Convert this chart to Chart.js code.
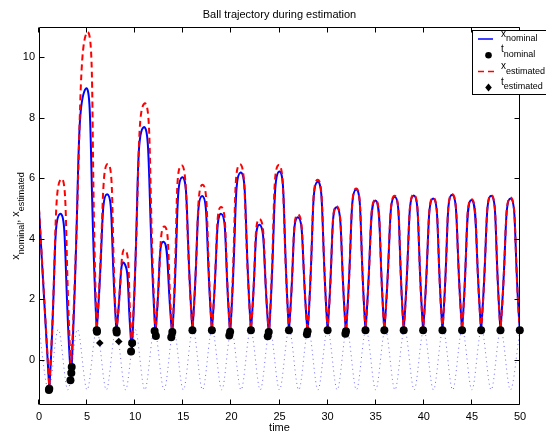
<!DOCTYPE html>
<html><head><meta charset="utf-8">
<script src="https://cdn.jsdelivr.net/npm/chart.js@4.4.1/dist/chart.umd.min.js"></script>
<style>html,body{margin:0;padding:0;background:#fff;overflow:hidden}canvas{display:block}</style>
</head><body>
<canvas id="c" width="546" height="432"></canvas>
<script>
// ---- text ----
const chartTitle = 'Ball trajectory during estimation';
const xAxisLabel = 'time';
// ---- ticks ----
const xTicks = [0, 5, 10, 15, 20, 25, 30, 35, 40, 45, 50];
const yTicks = [0, 2, 4, 6, 8, 10];
// ---- ball impacts (shared times) ----
const impactT    = [1.07, 3.33, 6.0, 8.05, 9.65, 12.1, 13.85, 15.95, 17.97, 19.87, 22.03, 23.9, 25.98, 27.92, 30.0, 31.91, 33.94, 35.9, 37.91, 39.93, 41.94, 43.98, 45.96, 47.97, 49.98];
const nomImpactY = [-0.96, -0.69, 0.97, 0.95, 0.3, 0.85, 0.8, 0.97, 0.97, 0.85, 0.97, 0.8, 0.97, 0.88, 0.97, 0.88, 0.97, 0.97, 0.97, 0.97, 0.97, 0.97, 0.97, 0.97, 0.97];
const estImpactY = [-0.9, -0.35, 0.97, 0.95, 0.5, 0.9, 0.85, 0.97, 0.97, 0.9, 0.97, 0.85, 0.97, 0.9, 0.97, 0.9, 0.97, 0.97, 0.97, 0.97, 0.97, 0.97, 0.97, 0.97, 0.97];
// ---- x_nominal: start value and apexes ----
const nomStart = 4.95;
const nomPeakT = [2.19, 4.79, 7.08, 8.85, 10.86, 12.94, 14.88, 16.96, 18.94, 20.95, 22.93, 24.97, 26.92, 28.96, 30.94, 32.96, 34.96, 36.97, 38.95, 40.97, 42.94, 44.95, 47.0, 49.01];
const nomPeakY = [4.82, 8.93, 5.47, 3.19, 7.68, 3.9, 6.03, 5.41, 4.82, 6.19, 4.46, 6.22, 4.71, 5.88, 5.04, 5.63, 5.26, 5.39, 5.43, 5.33, 5.45, 5.28, 5.42, 5.33];
// ---- x_estimated: start value and apexes ----
const estStart = 5.0;
const estPeakT = [2.29, 4.99, 7.15, 8.95, 10.96, 13.04, 14.8, 17.0, 18.94, 20.88, 22.93, 24.92, 26.92, 28.96, 30.94, 32.96, 34.96, 36.97, 38.95, 40.97, 42.94, 44.95, 47.0, 49.01];
const estPeakY = [5.97, 10.83, 6.47, 3.63, 8.47, 4.4, 6.43, 5.78, 5.05, 6.46, 4.65, 6.44, 4.8, 5.95, 5.08, 5.66, 5.29, 5.42, 5.46, 5.36, 5.48, 5.31, 5.45, 5.36];
// ---- t_nominal markers ----
const tNomT = [1.07, 1.03, 3.4, 3.36, 3.27, 6.0, 6.03, 8.05, 8.08, 9.68, 9.57, 12.02, 12.15, 13.86, 13.75, 15.95, 17.97, 19.87, 19.78, 22.03, 23.88, 23.78, 25.98, 27.92, 27.85, 30.0, 31.91, 31.85, 33.94, 35.9, 37.91, 39.93, 41.94, 43.98, 45.96, 47.97, 49.98];
const tNomY = [-0.96, -1.0, -0.24, -0.44, -0.68, 0.97, 0.92, 0.97, 0.9, 0.55, 0.27, 0.95, 0.78, 0.91, 0.74, 0.97, 0.97, 0.92, 0.8, 0.97, 0.91, 0.77, 0.97, 0.94, 0.84, 0.97, 0.94, 0.86, 0.97, 0.97, 0.97, 0.97, 0.97, 0.97, 0.97, 0.97, 0.97];
// ---- t_estimated markers ----
const tEstT = [1.05, 3.36, 6.32, 8.29, 9.68, 12.05, 13.82, 15.95, 17.97, 19.85];
const tEstY = [-0.94, -0.4, 0.55, 0.6, 0.5, 0.9, 0.85, 0.97, 0.97, 0.9];
// ---- dotted reference (paddle) extremes ----
const paddleT = [0,1,2,3,4,5,6,7,8,9,10,11,12,13,14,15,16,17,18,19,20,21,22,23,24,25,26,27,28,29,30,31,32,33,34,35,36,37,38,39,40,41,42,43,44,45,46,47,48,49,50];
const paddleY = [1,-1,1,-1,1,-1,1,-1,1,-1,1,-1,1,-1,1,-1,1,-1,1,-1,1,-1,1,-1,1,-1,1,-1,1,-1,1,-1,1,-1,1,-1,1,-1,1,-1,1,-1,1,-1,1,-1,1,-1,1,-1,1];

function trajectory(startY, impY, pT, pY) {
  const pts = [{x: 0, y: startY}];
  impactT.forEach((t, i) => {
    pts.push({x: t, y: impY[i]}, {x: t, y: impY[i]});
    if (i < pT.length) pts.push({x: pT[i], y: pY[i]});
  });
  return pts;
}
const zip = (a, b) => a.map((v, i) => ({x: v, y: b[i]}));

const FONT = '"Liberation Sans", Arial, Helvetica, sans-serif';

function subText(ctx, x, y, parts) {
  let cx = x;
  parts.forEach(([t, s, d]) => {
    ctx.font = s + 'px ' + FONT;
    ctx.fillText(t, cx, y + d);
    cx += ctx.measureText(t).width;
  });
  return cx - x;
}
function measureParts(ctx, parts) {
  let w = 0;
  parts.forEach(([t, s]) => { ctx.font = s + 'px ' + FONT; w += ctx.measureText(t).width; });
  return w;
}

const frame = {
  id: 'frame',
  afterDatasetsDraw(chart) {
    const {ctx, chartArea: a, scales: {x, y}} = chart;
    ctx.save();
    ctx.strokeStyle = '#000';
    ctx.lineWidth = 1;
    const L = Math.floor(a.left) + 0.5, R = Math.floor(a.right) - 0.5;
    const T = Math.floor(a.top) + 0.5, B = Math.floor(a.bottom) - 0.5;
    ctx.beginPath();
    ctx.rect(L, T, R - L, B - T);
    xTicks.forEach(v => {
      const px = Math.round(x.getPixelForValue(v)) - 0.5;
      ctx.moveTo(px, B); ctx.lineTo(px, B - 5);
      ctx.moveTo(px, T); ctx.lineTo(px, T + 5);
    });
    yTicks.forEach(v => {
      const py = Math.round(y.getPixelForValue(v)) + 0.5;
      ctx.moveTo(L, py); ctx.lineTo(L + 5, py);
      ctx.moveTo(R, py); ctx.lineTo(R - 5, py);
    });
    ctx.stroke();
    ctx.restore();
  },
  afterDraw(chart) {
    const {ctx, chartArea: a} = chart;
    ctx.save();
    ctx.fillStyle = '#000';
    ctx.textBaseline = 'alphabetic';
    ctx.font = '11px ' + FONT;
    ctx.textAlign = 'center';
    ctx.fillText(chartTitle, (a.left + a.right) / 2, 18);
    ctx.fillText(xAxisLabel, (a.left + a.right) / 2, 430.5);
    ctx.textAlign = 'left';
    const yParts = [['x', 11, 0], ['nominal', 9, 5], [', x', 11, 0], ['estimated', 9, 5]];
    const yw = measureParts(ctx, yParts);
    ctx.save();
    ctx.translate(18.5, (a.top + a.bottom) / 2);
    ctx.rotate(-Math.PI / 2);
    subText(ctx, -yw / 2, 0, yParts);
    ctx.restore();
    // legend box
    ctx.fillStyle = '#fff';
    ctx.fillRect(472, 30, 80, 65);
    ctx.strokeStyle = '#000'; ctx.lineWidth = 1;
    ctx.strokeRect(472.5, 30.5, 80, 64);
    const rows = [39, 55.3, 71.6, 87.6];
    ctx.strokeStyle = '#0000ff'; ctx.lineWidth = 1.5;
    ctx.beginPath(); ctx.moveTo(478, rows[0]); ctx.lineTo(493, rows[0]); ctx.stroke();
    ctx.fillStyle = '#000';
    ctx.beginPath(); ctx.arc(488.5, rows[1], 3.3, 0, Math.PI * 2); ctx.fill();
    ctx.strokeStyle = '#ff0000'; ctx.lineWidth = 1.5;
    ctx.setLineDash([6, 4]);
    ctx.beginPath(); ctx.moveTo(478, rows[2]); ctx.lineTo(494, rows[2]); ctx.stroke();
    ctx.setLineDash([]);
    ctx.beginPath();
    ctx.moveTo(488.5, rows[3] - 4); ctx.lineTo(491.8, rows[3]); ctx.lineTo(488.5, rows[3] + 4); ctx.lineTo(485.2, rows[3]);
    ctx.closePath(); ctx.fill();
    ctx.fillStyle = '#000';
    subText(ctx, 501, rows[0] - 2.5, [['x', 10, 0], ['nominal', 9, 4.5]]);
    subText(ctx, 501, rows[1] - 3, [['t', 10, 0], ['nominal', 9, 4.5]]);
    subText(ctx, 501, rows[2] - 2.5, [['x', 10, 0], ['estimated', 9, 4.5]]);
    subText(ctx, 501, rows[3] - 3, [['t', 10, 0], ['estimated', 9, 4.5]]);
    ctx.restore();
  }
};

new Chart(document.getElementById('c'), {
  type: 'scatter',
  data: {
    datasets: [
      { label: 't_estimated', data: zip(tEstT, tEstY), order: 0, showLine: false,
        pointStyle: 'rectRot', pointRadius: 3.8, backgroundColor: '#000', borderColor: '#000', borderWidth: 0, clip: false },
      { label: 't_nominal', data: zip(tNomT, tNomY), order: 1, showLine: false,
        pointStyle: 'circle', pointRadius: 4, backgroundColor: '#000', borderColor: '#000', borderWidth: 0, clip: false },
      { label: 'x_estimated', data: trajectory(estStart, estImpactY, estPeakT, estPeakY), order: 2, showLine: true,
        borderColor: '#ff0000', borderWidth: 2, borderDash: [6, 4], pointRadius: 0, tension: 0.65, fill: false },
      { label: 'x_nominal', data: trajectory(nomStart, nomImpactY, nomPeakT, nomPeakY), order: 3, showLine: true,
        borderColor: '#0000ff', borderWidth: 2, pointRadius: 0, tension: 0.65, fill: false },
      { label: 'paddle', data: zip(paddleT, paddleY), order: 4, showLine: true,
        borderColor: 'rgba(60,60,255,0.75)', borderWidth: 1, borderDash: [1, 3.5], pointRadius: 0,
        cubicInterpolationMode: 'monotone', fill: false }
    ]
  },
  options: {
    responsive: false,
    animation: false,
    devicePixelRatio: 1,
    events: [],
    layout: { padding: { top: 27, right: 26, left: 0, bottom: 0 } },
    plugins: { legend: { display: false }, title: { display: false }, tooltip: { enabled: false } },
    scales: {
      x: {
        type: 'linear', min: 0, max: 50,
        grid: { display: false, drawTicks: false }, border: { display: false },
        afterBuildTicks: s => { s.ticks = xTicks.map(v => ({value: v})); },
        afterFit: s => { s.height = 27; },
        ticks: { font: { family: FONT, size: 11 }, color: '#000', padding: 5, maxRotation: 0, autoSkip: false }
      },
      y: {
        type: 'linear', min: -1.5, max: 11,
        grid: { display: false, drawTicks: false }, border: { display: false },
        afterBuildTicks: s => { s.ticks = yTicks.map(v => ({value: v})); },
        afterFit: s => { s.width = 39; },
        ticks: { font: { family: FONT, size: 11 }, color: '#000', padding: 4 }
      }
    }
  },
  plugins: [frame]
});
</script>
</body></html>
